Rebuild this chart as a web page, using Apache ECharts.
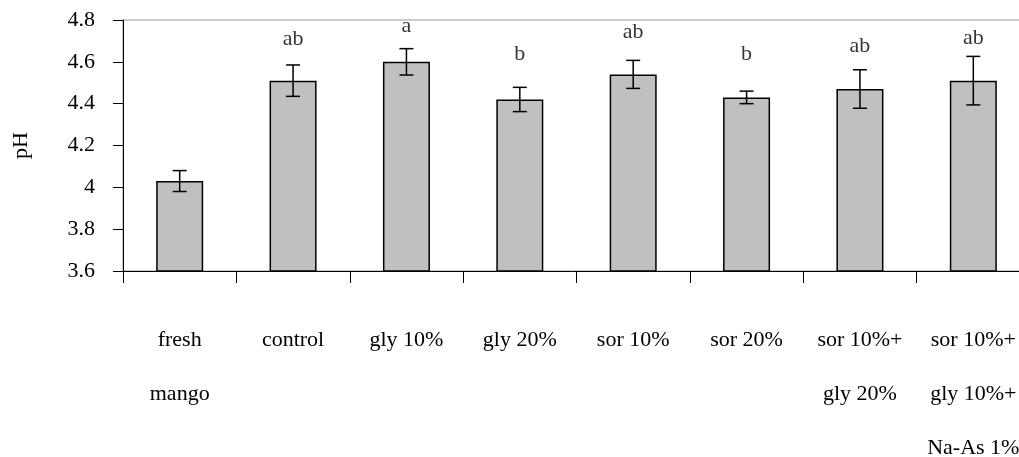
<!DOCTYPE html>
<html>
<head>
<meta charset="utf-8">
<script src="https://cdn.jsdelivr.net/npm/echarts@6/dist/echarts.min.js"></script>
<style>
  html, body { margin: 0; padding: 0; background: #fff; }
  #chart { width: 1019px; height: 457px; }
</style>
</head>
<body>
<div id="chart"></div>
<script>
// pH of each treatment, with SD and significance letters
var categories = ['fresh\nmango', 'control', 'gly 10%', 'gly 20%', 'sor 10%', 'sor 20%', 'sor 10%+\ngly 20%', 'sor 10%+\ngly 10%+\nNa-As 1%'];
var phMean = [4.03, 4.51, 4.60, 4.42, 4.54, 4.43, 4.47, 4.51];
var phSd = [0.05, 0.075, 0.063, 0.058, 0.067, 0.03, 0.092, 0.116];
var letters = ['', 'ab', 'a', 'b', 'ab', 'b', 'ab', 'ab'];
var letterAt = [0, 4.71, 4.77, 4.635, 4.74, 4.635, 4.675, 4.715];
var yTicks = [3.6, 3.8, 4.0, 4.2, 4.4, 4.6, 4.8];

var serif = '"Liberation Serif", "Times New Roman", serif';
var fs = 22;

var chart = echarts.init(document.getElementById('chart'));

var errData = phMean.map(function (m, i) {
  return [i, m - phSd[i], m + phSd[i]];
});
var letterData = letters.map(function (t, i) {
  return { value: [i, letterAt[i]], name: t };
}).filter(function (d) { return d.name !== ''; });

chart.setOption({
  animation: false,
  grid: {
    left: 123, top: 20, height: 251, width: 907,
    containLabel: false, outerBoundsMode: 'none',
    show: true, borderColor: '#999', borderWidth: 1
  },
  xAxis: {
    type: 'category',
    data: categories,
    axisLine: { lineStyle: { color: '#000', width: 1 } },
    axisTick: { show: true, length: 12, lineStyle: { color: '#000' } },
    axisLabel: {
      color: '#000', fontFamily: serif, fontSize: fs,
      lineHeight: 54, margin: 42, interval: 0, hideOverlap: false
    },
    splitLine: { show: false }
  },
  yAxis: {
    type: 'value',
    min: yTicks[0], max: yTicks[yTicks.length - 1], interval: 0.2,
    name: 'pH', nameLocation: 'middle', nameGap: 91, nameRotate: 90,
    nameTextStyle: { color: '#000', fontFamily: serif, fontSize: fs },
    axisLine: { show: true, lineStyle: { color: '#000', width: 1 } },
    axisTick: { show: true, length: 10, lineStyle: { color: '#000' } },
    axisLabel: { color: '#000', fontFamily: serif, fontSize: fs, margin: 28 },
    splitLine: { show: false }
  },
  series: [
    {
      type: 'bar',
      data: phMean,
      barWidth: 47,
      itemStyle: { color: '#c0c0c0', borderColor: '#000', borderWidth: 1.5 }
    },
    {
      type: 'custom',
      data: errData,
      z: 5,
      renderItem: function (params, api) {
        var x = api.value(0);
        var lo = api.coord([x, api.value(1)]);
        var hi = api.coord([x, api.value(2)]);
        var half = 7;
        var st = { stroke: '#000', lineWidth: 1.5 };
        return {
          type: 'group',
          children: [
            { type: 'line', shape: { x1: hi[0], y1: hi[1], x2: lo[0], y2: lo[1] }, style: st },
            { type: 'line', shape: { x1: hi[0] - half, y1: hi[1], x2: hi[0] + half, y2: hi[1] }, style: st },
            { type: 'line', shape: { x1: lo[0] - half, y1: lo[1], x2: lo[0] + half, y2: lo[1] }, style: st }
          ]
        };
      }
    },
    {
      type: 'scatter',
      data: letterData,
      symbolSize: 0,
      label: {
        show: true, position: 'inside', formatter: '{b}',
        color: '#000', fontFamily: serif, fontSize: fs
      }
    }
  ]
});
</script>
</body>
</html>
